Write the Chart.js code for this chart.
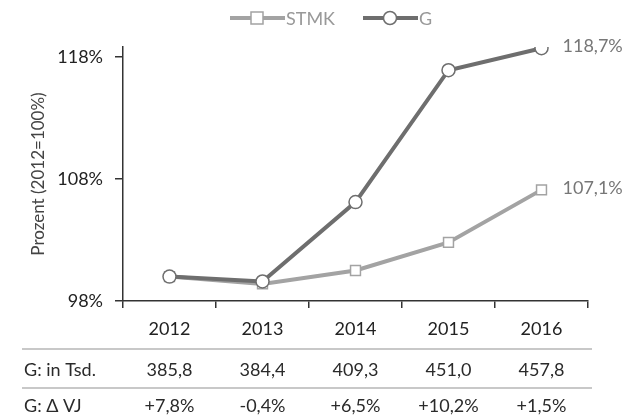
<!DOCTYPE html>
<html>
<head>
<meta charset="utf-8">
<script src="https://cdn.jsdelivr.net/npm/chart.js@4.4.1/dist/chart.umd.min.js"></script>
<style>
  html, body { margin: 0; padding: 0; background: #fff; }
  #wrap { width: 636px; height: 415px; position: relative; }
</style>
</head>
<body>
<div id="wrap"><canvas id="chart"></canvas></div>
<script>
/* Daten */
const jahre = ["2012", "2013", "2014", "2015", "2016"];
const stmk = [100, 99.4, 100.5, 102.8, 107.1];
const g = [100, 99.6, 106.1, 116.9, 118.7];
const gTsd = ["385,8", "384,4", "409,3", "451,0", "457,8"];
const gVj = ["+7,8%", "-0,4%", "+6,5%", "+10,2%", "+1,5%"];
const endLabels = ["107,1%", "118,7%"];
const yTicks = [98, 108, 118];

const FONT = "Lato, 'Noto Sans', sans-serif";
const colG = "#6e6e6e";
const colS = "#a3a3a3";

/* Legende, Endwerte und Tabelle */
const extras = {
    id: "extras",
    afterDatasetsDraw(chart) {
        const ctx = chart.ctx;
        const x = chart.scales.x;
        ctx.save();

        // Endwerte rechts
        ctx.font = "18px " + FONT;
        ctx.fillStyle = "#777";
        ctx.textAlign = "left";
        ctx.textBaseline = "middle";
        [1, 0].forEach((di, k) => {
            const meta = chart.getDatasetMeta(di);
            const pt = meta.data[meta.data.length - 1];
            ctx.fillText(endLabels[k], pt.x + 21, pt.y - 2);
        });

        // Legende
        const legend = [
            { text: "STMK", color: colS, style: "rect", x0: 230 },
            { text: "G", color: colG, style: "circle", x0: 363 }
        ];
        const ly = 18;
        ctx.font = "18px " + FONT;
        legend.forEach(l => {
            ctx.strokeStyle = l.color;
            ctx.lineWidth = 4;
            ctx.beginPath();
            ctx.moveTo(l.x0, ly);
            ctx.lineTo(l.x0 + 55, ly);
            ctx.stroke();
            const cx = l.x0 + 27;
            ctx.fillStyle = "#fff";
            ctx.lineWidth = 1.5;
            ctx.beginPath();
            if (l.style === "rect") ctx.rect(cx - 6, ly - 6, 12, 12);
            else ctx.arc(cx, ly, 6.5, 0, Math.PI * 2);
            ctx.fill();
            ctx.stroke();
            ctx.fillStyle = "#999";
            ctx.fillText(l.text, l.x0 + 56, ly + 1);
        });

        // Tabelle
        const rows = [
            { label: "G: in Tsd.", vals: gTsd, y: 370 },
            { label: "G: \u0394 VJ", vals: gVj, y: 406 }
        ];
        ctx.font = "18px " + FONT;
        ctx.fillStyle = "#2a2a2a";
        rows.forEach(r => {
            ctx.textAlign = "left";
            ctx.fillText(r.label, 24, r.y);
            ctx.textAlign = "center";
            r.vals.forEach((v, i) => ctx.fillText(v, x.getPixelForValue(i), r.y));
        });
        ctx.strokeStyle = "#c8c8c8";
        ctx.lineWidth = 2;
        [349, 388].forEach(yy => {
            ctx.beginPath();
            ctx.moveTo(22, yy);
            ctx.lineTo(592, yy);
            ctx.stroke();
        });
        ctx.restore();
    }
};

const punkt = (color) => ({
    borderColor: color,
    borderWidth: 4,
    pointBackgroundColor: "#fff",
    pointBorderColor: color,
    pointBorderWidth: 1.5,
    pointRadius: 6.5,
    tension: 0
});

new Chart(document.getElementById("chart"), {
    type: "line",
    data: {
        labels: jahre,
        datasets: [
            Object.assign({ label: "G", data: g, order: 0, pointStyle: "circle" }, punkt(colG)),
            Object.assign({ label: "STMK", data: stmk, order: 1, pointStyle: "rect" }, punkt(colS), { pointRadius: 7 })
        ]
    },
    options: {
        responsive: true,
        maintainAspectRatio: false,
        animation: false,
        layout: { padding: { top: 47, right: 48, left: 0, bottom: 0 } },
        plugins: { legend: { display: false }, tooltip: { enabled: false } },
        scales: {
            x: {
                offset: true,
                grid: { offset: true, drawOnChartArea: false, tickLength: 7, color: "#333", lineWidth: 1.5 },
                border: { color: "#333", width: 1.5 },
                ticks: { padding: 10, color: "#222", font: { family: FONT, size: 18 } },
                afterFit(scale) { scale.height = 415 - 301; }
            },
            y: {
                min: 98,
                max: 118.8,
                afterBuildTicks(scale) { scale.ticks = yTicks.map(v => ({ value: v })); },
                grid: { drawOnChartArea: false, tickLength: 8, color: "#333", lineWidth: 1.5 },
                border: { color: "#333", width: 1.5 },
                ticks: {
                    padding: 12,
                    color: "#222",
                    font: { family: FONT, size: 18 },
                    callback: v => v + "%"
                },
                title: {
                    display: true,
                    text: "Prozent (2012=100%)",
                    color: "#444",
                    font: { family: FONT, size: 17 },
                    padding: { top: 28, bottom: 0 }
                },
                afterFit(scale) { scale.width = 123; }
            }
        }
    },
    plugins: [extras]
});
</script>
</body>
</html>
